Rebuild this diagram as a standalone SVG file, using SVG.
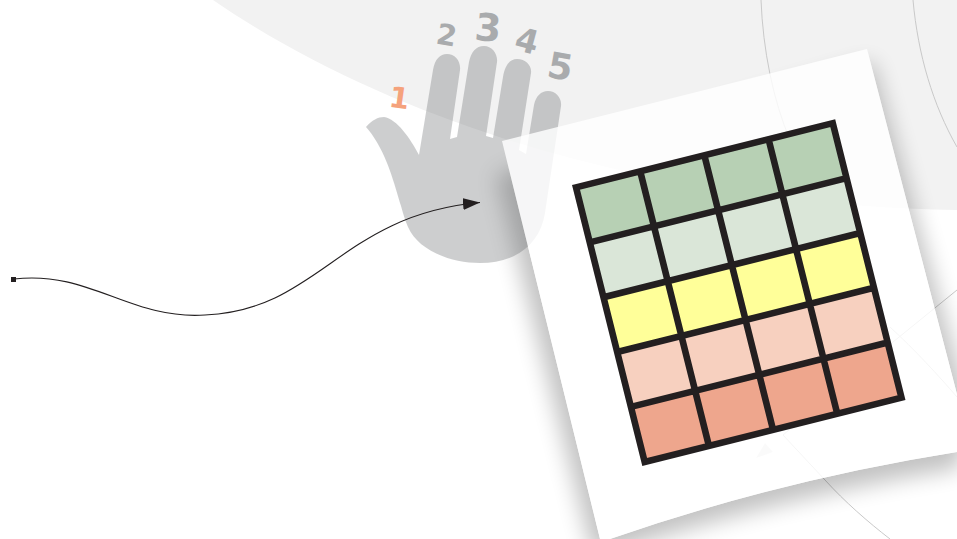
<svg xmlns="http://www.w3.org/2000/svg" width="957" height="539" viewBox="0 0 957 539">
<style>
.arc{fill:none;stroke:#c9c9c9;stroke-width:1}
.num{font-family:"DejaVu Sans",sans-serif;font-weight:700;fill:#a9abad;text-anchor:middle}
.g{fill:#b7d0b4}.l{fill:#dae6d8}.y{fill:#ffff99}.p{fill:#f7d0bf}.s{fill:#eea68d}
.gl{fill:none;stroke:#231f20;stroke-width:6.6}
</style>
<defs>
<filter id="blur" x="-20%" y="-20%" width="140%" height="140%"><feGaussianBlur stdDeviation="11"/></filter>
<clipPath id="outside"><path clip-rule="evenodd" d="M0 0H957V539H0Z M502 141 L867 49 L958 398 L957 452 Q780 480 610 539 L600 539Z"/></clipPath>
<marker id="arrow" markerUnits="userSpaceOnUse" markerWidth="18" markerHeight="12" refX="17" refY="6" orient="auto"><path d="M0 0L17 6L0 12Z" fill="#231f20"/></marker>
</defs>
<rect width="957" height="539" fill="#fff"/>
<path id="backdrop" d="M213 0C300 60 400 105 502 138C650 185 800 207 957 210V0Z" fill="#f2f2f2"/>
<g id="arcs">
<path class="arc" d="M761 0C763 50 773 100 790 140"/>
<path class="arc" d="M913 0C918 55 933 105 957 147"/>
<path class="arc" d="M783 435L825 480C845 502 868 522 890 539"/>
<path class="arc" d="M957 290L893 342M893 342L783 435"/>
<path class="arc" d="M890 327C915 350 938 375 957 397"/>
<path d="M756 458L765 443L773 452Z" fill="#e4e4e4"/>
</g>
<g clip-path="url(#outside)"><path id="shadow" d="M496 175L872 62L968 400L960 468Q780 497 612 552L592 552Z" fill="#000" opacity=".24" filter="url(#blur)"/></g>
<g id="hand">
<path d="M366 127C372 120 378 117 384 117C397 119 410 138 419 155L433 70C435 59 440 54 447 54C455 54 461 61 460 70L450 139L457 137L469 62C471 52 476 46 484 46C492 46 498 54 497 62L486 136L493 138L503 77C505 65 510 59 517 59C526 59 532 66 531 73L519 150L526 154L534 105C536 96 541 91 548 91C556 91 562 98 561 106L545 213C540 245 515 263 480 263C450 263 418 250 408 227C403 215 402 208 400 203C395 185 390 170 387 163C381 148 374 136 366 127Z" fill="#5f6264" opacity=".31"/>
<text class="num" style="fill:#f5a27c" font-size="29" transform="translate(398 108) rotate(8)">1</text>
<text class="num" font-size="29" transform="translate(445 45) rotate(10)">2</text>
<text class="num" font-size="38" transform="translate(487 41) rotate(5)">3</text>
<text class="num" font-size="33" transform="translate(524 52) rotate(15)">4</text>
<text class="num" font-size="36" transform="translate(558 79) rotate(10)">5</text>
</g>
<path id="card" d="M502 141L867 49L958 398L957 452Q780 480 610 539L600 539Z" fill="#fff" opacity=".82"/>
<g id="grid" transform="translate(572 185) rotate(-14.05)">
<g id="row1"><rect class="g" x="3.5" y="3.5" width="264.2" height="56.5"/></g>
<g id="row2"><rect class="l" x="3.5" y="60" width="264.2" height="56.5"/></g>
<g id="row3"><rect class="y" x="3.5" y="116.5" width="264.2" height="56.5"/></g>
<g id="row4"><rect class="p" x="3.5" y="173" width="264.2" height="56.5"/></g>
<g id="row5"><rect class="s" x="3.5" y="229.5" width="264.2" height="56.6"/></g>
<path class="gl" d="M3.3 3.3H268V286.3H3.3ZM3.3 60H268M3.3 116.5H268M3.3 173H268M3.3 229.5H268M69.5 3.3V286.3M135.6 3.3V286.3M201.8 3.3V286.3"/>
</g>
<g id="connectors">
<rect x="11" y="277" width="5" height="5" fill="#231f20"/>
<path d="M14 279C90 270 130 320 205 315C320 310 340 215 480 202.5" fill="none" stroke="#231f20" stroke-width="1.1" marker-end="url(#arrow)"/>
</g>
</svg>
